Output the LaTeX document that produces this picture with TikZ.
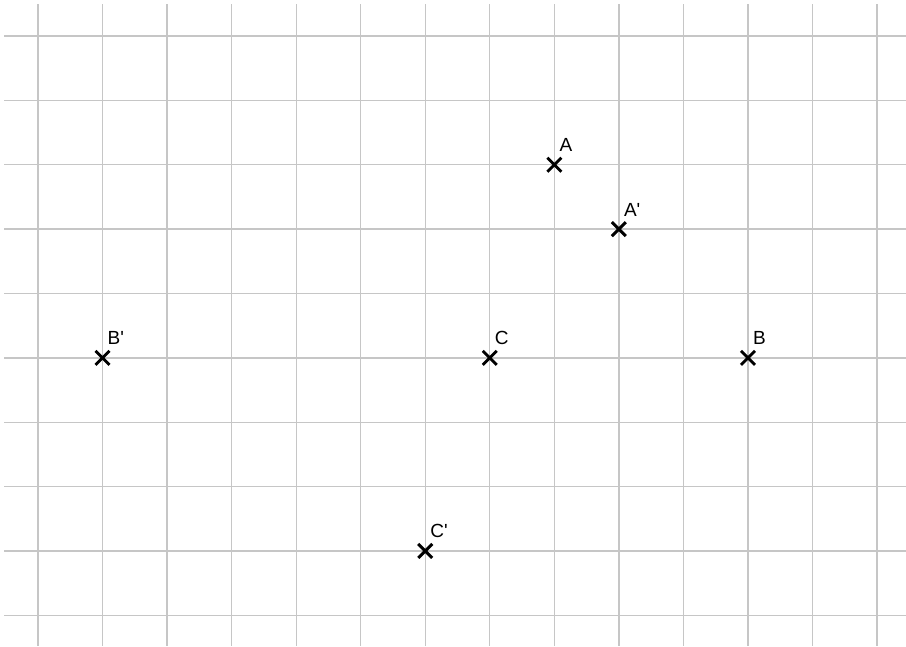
\documentclass[tikz,border=0pt]{standalone}
\usepackage{fontspec}
\setmainfont{Liberation Sans}[Ligatures=TeXOff]
\usetikzlibrary{calc}
\begin{document}
\begin{tikzpicture}[x=1pt,y=-1pt,
  gridline/.style={draw={rgb,255:red,198;green,198;blue,198}, line width=1.3pt},
  crossmark/.style={draw=black, line width=2.9pt},
  ptlabel/.style={anchor=base west, inner sep=0pt, font=\fontsize{19}{19}\selectfont}]
\useasboundingbox (0,0) rectangle (906,646);
\foreach \i in {0,...,13} {
  \draw[gridline] ({38+64.54*\i},4) -- ({38+64.54*\i},646);
}
\foreach \j in {0,...,9} {
  \draw[gridline] (4,{36+64.37*\j}) -- (906,{36+64.37*\j});
}
\foreach \nm/\lab/\i/\j in {A/A/8/2, Ap/A'/9/3, B/B/11/5, Bp/B'/1/5, C/C/7/5, Cp/C'/6/8} {
  \coordinate (\nm) at ({38+64.54*\i},{36+64.37*\j});
  \draw[crossmark] ($(\nm)+(-7,-7)$) -- ($(\nm)+(7,7)$);
  \draw[crossmark] ($(\nm)+(-7,7)$) -- ($(\nm)+(7,-7)$);
  \node[ptlabel] (\nm-l) at ($(\nm)+(5,-13)$) {\lab};
}
\end{tikzpicture}
\end{document}
